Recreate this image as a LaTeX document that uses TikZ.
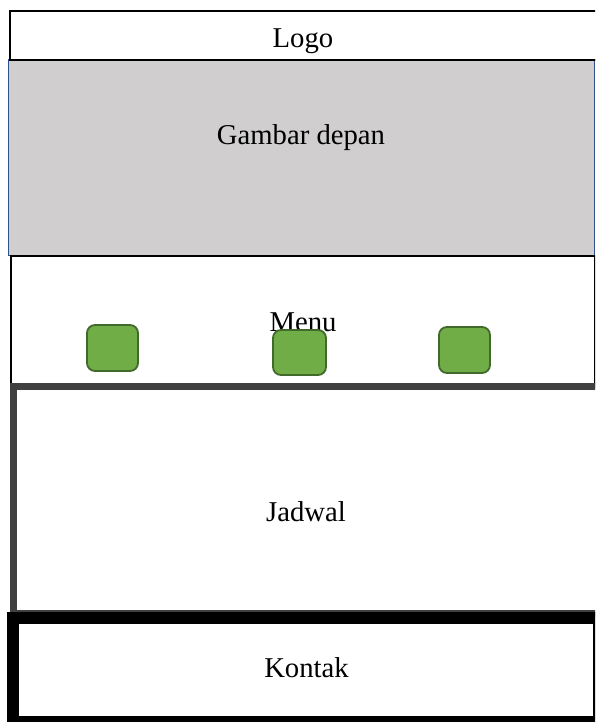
\documentclass[tikz,border=0pt]{standalone}
\usepackage{fontspec}
\setmainfont{Liberation Serif}
\definecolor{gambargray}{HTML}{D0CECE}
\definecolor{gambarblue}{HTML}{2F528F}
\definecolor{jadwalgray}{HTML}{404040}
\definecolor{btnfill}{HTML}{70AD47}
\definecolor{btnedge}{HTML}{41692B}
\tikzset{
  x=1pt, y=1pt,
  panel/.style={rectangle, inner sep=0pt, outer sep=0pt},
  label/.style={anchor=base, inner sep=0pt, font=\fontsize{28.7}{34}\selectfont},
  button/.style={rectangle, rounded corners=8pt, draw=btnedge, fill=btnfill, line width=1.8pt, inner sep=0pt, minimum width=51pt, minimum height=46pt},
}
\begin{document}
\begin{tikzpicture}
\useasboundingbox (0,0) rectangle (595,722);
\clip (0,0) rectangle (595,722);
% Gambar depan
\node[panel, draw=gambarblue, fill=gambargray, line width=1pt, minimum width=586pt, minimum height=196pt] (gambar) at (301.5,564) {};
\node[label] (gambartext) at (301,577) {Gambar depan};
% Logo
\node[panel, draw=black, fill=white, line width=2.3pt, minimum width=600pt, minimum height=49pt] (logo) at (310,686.5) {};
\node[label] (logotext) at (303,674) {Logo};
\draw[black, line width=2.3pt] (logo.south west) -- (logo.south east);
% Menu
\node[panel, draw=black, fill=white, line width=1.5pt, minimum width=584pt, minimum height=131pt] (menu) at (303,400.5) {};
\node[label] (menutext) at (303,390) {Menu};
\node[button] (b1) at (112.5,374) {};
\node[button, minimum width=53pt, minimum height=45pt] (b2) at (299.5,369.5) {};
\node[button] (b3) at (464.5,372) {};
% Jadwal
\node[panel, draw=jadwalgray, fill=white, line width=7pt, minimum width=586.5pt, minimum height=227pt] (jadwal) at (306.75,221.5) {};
\node[label] (jadwaltext) at (306,200) {Jadwal};
% Kontak
\node[panel, draw=black, fill=white, line width=12pt, minimum width=586pt, minimum height=104pt] (kontak) at (306,52) {};
\node[label] (kontaktext) at (306.5,44) {Kontak};
\end{tikzpicture}
\end{document}
